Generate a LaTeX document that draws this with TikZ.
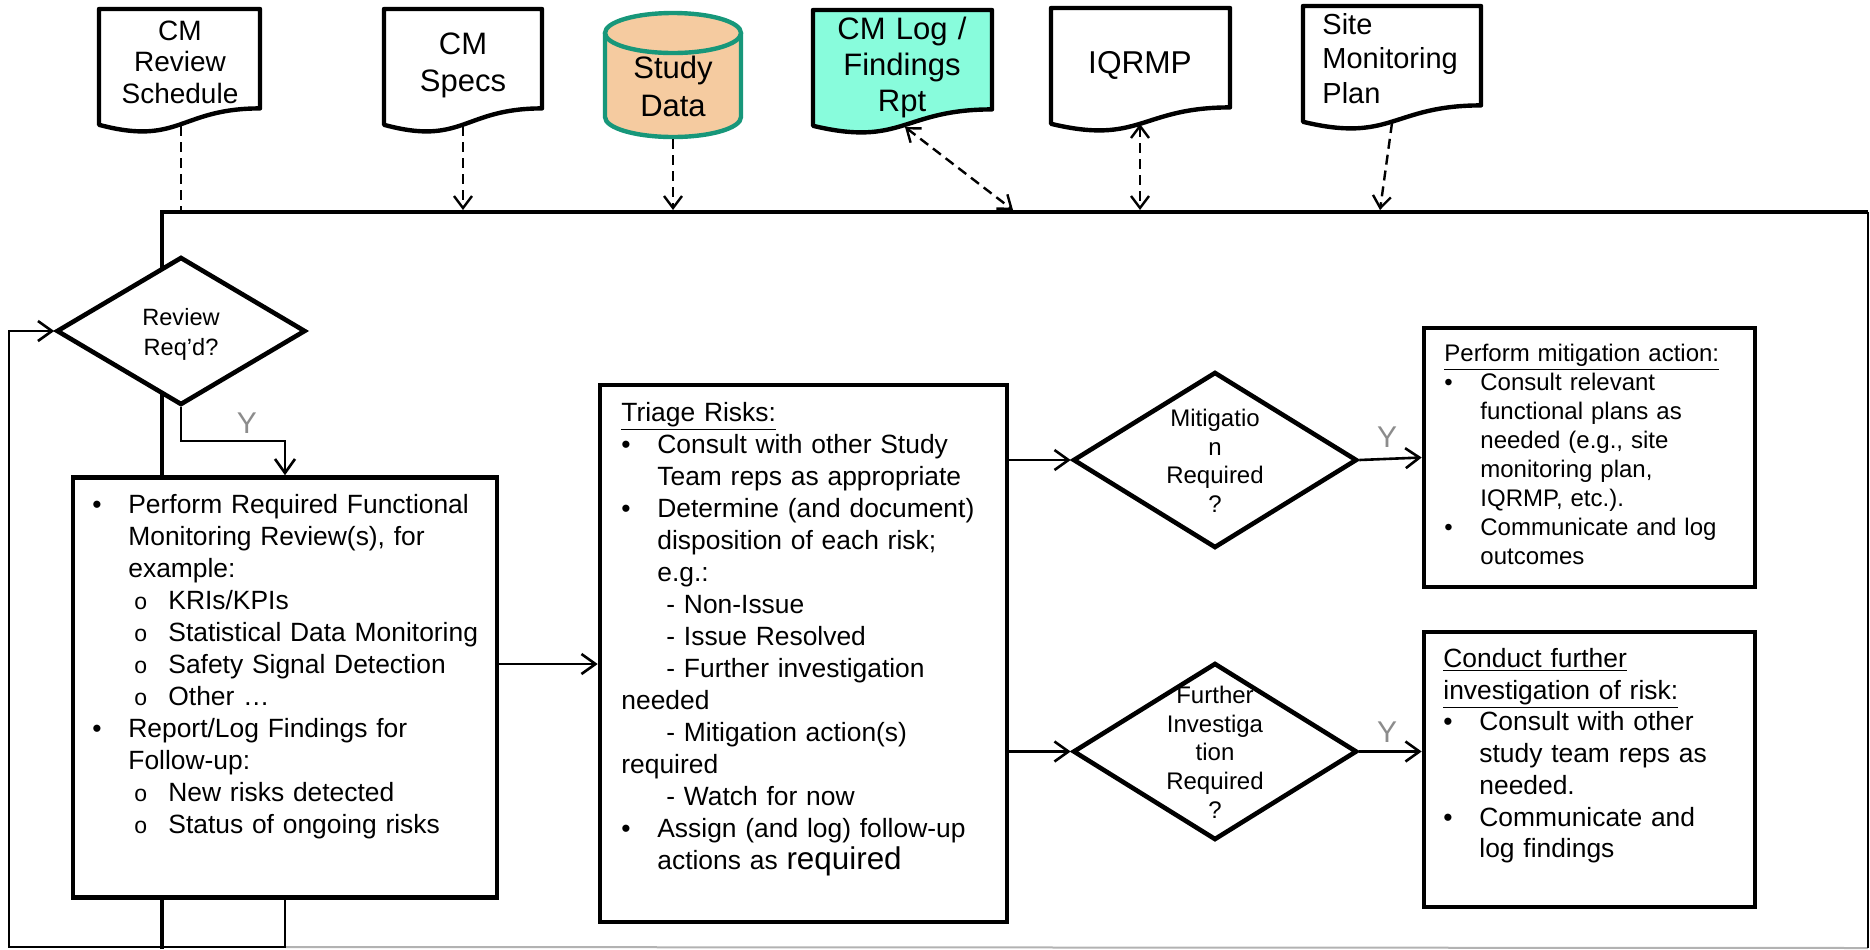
\documentclass[tikz,border=0pt]{standalone}
\usepackage{fontspec}
\setmainfont{Liberation Sans}
\usetikzlibrary{arrows.meta,shapes.geometric}

\definecolor{peach}{HTML}{F5CBA0}
\definecolor{dbgreen}{HTML}{17977A}
\definecolor{aquafill}{HTML}{88FCDC}
\definecolor{ygray}{HTML}{8C8C8C}

% font sizes (1 px = 0.5 pt)
\newcommand\fBody{\fontsize{13.2pt}{16pt}\selectfont}
\newcommand\fCond{\fontsize{13.2pt}{15.85pt}\selectfont}
\newcommand\fSmall{\fontsize{12pt}{14.5pt}\selectfont}
\newcommand\fDia{\fontsize{12pt}{14.3pt}\selectfont}
\newcommand\fRev{\fontsize{11.8pt}{15pt}\selectfont}
\newcommand\fDocA{\fontsize{14pt}{15.75pt}\selectfont}
\newcommand\fDocB{\fontsize{15.5pt}{18.5pt}\selectfont}
\newcommand\fDocC{\fontsize{15.5pt}{19pt}\selectfont}
\newcommand\fDocD{\fontsize{15.5pt}{18pt}\selectfont}
\newcommand\fDocE{\fontsize{15.8pt}{18pt}\selectfont}
\newcommand\fDocF{\fontsize{14.5pt}{17.25pt}\selectfont}

% list helpers
\newcommand\bul{\makebox[18pt][l]{\textbullet}}
\newcommand\ind{\hspace*{18pt}}
\newcommand\subit{\hspace*{21pt}\makebox[17pt][l]{\fontsize{11.5pt}{16pt}\selectfont o}}
\newcommand\dsh{\hspace*{22.5pt}}

% document symbol with a wavy bottom edge: [options]{left}{top}{right}
\newcommand\docshape[4][]{%
  \draw[docline,#1] (#2,#3) -- (#4,#3) -- (#4,{#3+99.4})
    .. controls ({(#2+#4)/2},{#3+99.4}) and ({(#2+#4)/2},{#3+137.3}) ..
    (#2,{#3+115.8}) -- cycle;}

\begin{document}
\begin{tikzpicture}[x=0.5pt,y=-0.5pt,
  docline/.style={line width=2.2pt,fill=white,line join=round},
  box/.style={draw,line width=2.3pt,fill=white,inner sep=0pt},
  dia/.style={shape=diamond,draw,line width=2.3pt,fill=white,inner sep=0pt},
  txt/.style={anchor=base west,inner sep=0pt,align=left},
  ctxt/.style={anchor=base,inner sep=0pt,align=center},
  ylab/.style={inner sep=0pt,text=ygray,font=\fontsize{15pt}{15pt}\selectfont},
  conn/.style={line width=1.3pt,>={Straight Barb[length=7pt,width=10pt]},->},
  dconn/.style={line width=1.2pt,dash pattern=on 5pt off 3pt,
                >={Straight Barb[length=6pt,width=9pt]}},
  cyl/.style={line width=2.2pt,draw=dbgreen}]
\useasboundingbox (0,0) rectangle (1870,949);

% ---- outer frame ----
\coordinate (fTL) at (162,212);
\coordinate (fTR) at (1868,212);
\coordinate (fBR) at (1868,948);
\coordinate (fBL) at (162,949);
\coordinate (loopA) at (285,947);
\coordinate (loopB) at (9,947);
\draw[line width=1pt,black!30] (loopA) -- (fBR);
\draw[line width=1.1pt] (fTR) -- (fBR);
\draw[line width=2.2pt] (fBL) -- (fTL) -- (fTR);

% ---- input / output documents ----
\docshape{99}{9}{260}
\node[ctxt,font=\fDocA,text width=90pt] (crs) at (180,40) {CM\\Review\\Schedule};

\docshape{384}{9}{542}
\node[ctxt,font=\fDocB,text width=90pt] (spec) at (463,54) {CM\\Specs};

\fill[peach] (605,33) rectangle (741,117);
\fill[peach] (673,117) ellipse[x radius=34pt,y radius=10pt];
\draw[cyl] (605,33) -- (605,117) arc[start angle=180,end angle=360,x radius=34pt,y radius=10pt] -- (741,33);
\draw[cyl,fill=peach] (673,33) ellipse[x radius=34pt,y radius=10pt];
\node[ctxt,font=\fDocC,text width=80pt] (sd) at (673,78) {Study\\Data};

\docshape[fill=aquafill]{813}{10}{992}
\node[ctxt,font=\fDocD,text width=90pt] (log) at (902,39) {CM Log /\\Findings\\Rpt};

\docshape{1051}{8}{1230}
\node[ctxt,font=\fDocE,text width=90pt] (iq) at (1140,73.4) {IQRMP};

\docshape{1303}{6}{1481}
\node[txt,font=\fDocF,text width=85pt] (smp) at (1322,34.4) {Site\\Monitoring\\Plan};

% ---- dashed links between documents and the frame ----
\coordinate (crsB) at (181,126);  \coordinate (crsF) at (181,212);
\coordinate (specB) at (463,126); \coordinate (specF) at (463,210);
\coordinate (sdB) at (673,139);   \coordinate (sdF) at (673,210);
\coordinate (logB) at (905,127);  \coordinate (logF) at (1013,210);
\coordinate (iqB) at (1140,124);  \coordinate (iqF) at (1140,210);
\coordinate (smpB) at (1392,123); \coordinate (smpF) at (1380,210);
\draw[dconn] (crsB) -- (crsF);
\draw[dconn,->] (specB) -- (specF);
\draw[dconn,->] (sdB) -- (sdF);
\draw[dconn,<->] (logB) -- (logF);
\draw[dconn,<->] (iqB) -- (iqF);
\draw[dconn,->] (smpB) -- (smpF);

% ---- process elements ----
\node[dia,minimum width=124.5pt,minimum height=74pt] (rev) at (181,331) {};
\node[ctxt,font=\fRev,text width=80pt] (revt) at (181,325.5) {Review\\Req’d?};

\node[box,minimum width=212pt,minimum height=210pt] (lbox) at (285,687.5) {};
\node[txt,font=\fBody,text width=215pt] (ltxt) at (92,513.5) {%
\bul Perform Required Functional\\
\ind Monitoring Review(s), for\\
\ind example:\\
\subit KRIs/KPIs\\
\subit Statistical Data Monitoring\\
\subit Safety Signal Detection\\
\subit Other …\\
\bul Report/Log Findings for\\
\ind Follow-up:\\
\subit New risks detected\\
\subit Status of ongoing risks};

\node[box,minimum width=203.5pt,minimum height=268.5pt] (tri) at (803.5,653.5) {};
\node[txt,font=\fBody,text width=200pt] (ttxt) at (621,421.5) {%
\underline{Triage Risks:}\\
\bul Consult with other Study\\
\ind Team reps as appropriate\\
\bul Determine (and document)\\
\ind disposition of each risk;\\
\ind e.g.:\\
\dsh - Non-Issue\\
\dsh - Issue Resolved\\
\dsh - Further investigation\\
needed\\
\dsh - Mitigation action(s)\\
required\\
\dsh - Watch for now\\
\bul Assign (and log) follow-up\\
\ind actions as {\fontsize{15.7pt}{16pt}\selectfont required}};

\node[dia,minimum width=142pt,minimum height=88pt] (mit) at (1215,460) {};
\node[ctxt,font=\fDia,text width=70pt] (mitt) at (1215,426.6) {Mitigatio\\n\\Required\\?};

\node[dia,minimum width=142pt,minimum height=88.5pt] (fur) at (1215,751.5) {};
\node[ctxt,font=\fDia,text width=70pt] (furt) at (1215,703.6) {Further\\Investiga\\tion\\Required\\?};

\node[box,minimum width=165.5pt,minimum height=129.5pt] (mbox) at (1589.5,457.5) {};
\node[txt,font=\fSmall,text width=160pt] (mtxt) at (1444,361.6) {%
\underline{Perform mitigation action:}\\
\bul Consult relevant\\
\ind functional plans as\\
\ind needed (e.g., site\\
\ind monitoring plan,\\
\ind IQRMP, etc.).\\
\bul Communicate and log\\
\ind outcomes};

\node[box,minimum width=165.5pt,minimum height=137.5pt] (cbox) at (1589.5,769.5) {};
\node[txt,font=\fCond,text width=160pt] (ctxt) at (1443,667.5) {%
\underline{Conduct further}\\
\underline{investigation of risk:}\\
\bul Consult with other\\
\ind study team reps as\\
\ind needed.\\
\bul Communicate and\\
\ind log findings};

% ---- flow connectors ----
\coordinate (ybend) at (181,441);
\draw[conn] (rev.south) -- (ybend) -| (lbox.north);
\node[ylab] (y1) at (247,423) {Y};

\draw[conn] (lbox.south) -- (loopA) -- (loopB) |- (rev.west);

\coordinate (lout) at ([yshift=11.75pt]lbox.east);
\draw[conn] (lout) -- (lout -| tri.west);

\draw[conn] (tri.east |- mit.west) -- (mit.west);
\draw[conn] (tri.east |- fur.west) -- (fur.west);

\draw[conn] (mit.east) -- (mbox.west);
\node[ylab] (y2) at (1387,437.5) {Y};
\draw[conn] (fur.east) -- (fur.east -| cbox.west);
\node[ylab] (y3) at (1387,732.5) {Y};
\end{tikzpicture}
\end{document}
